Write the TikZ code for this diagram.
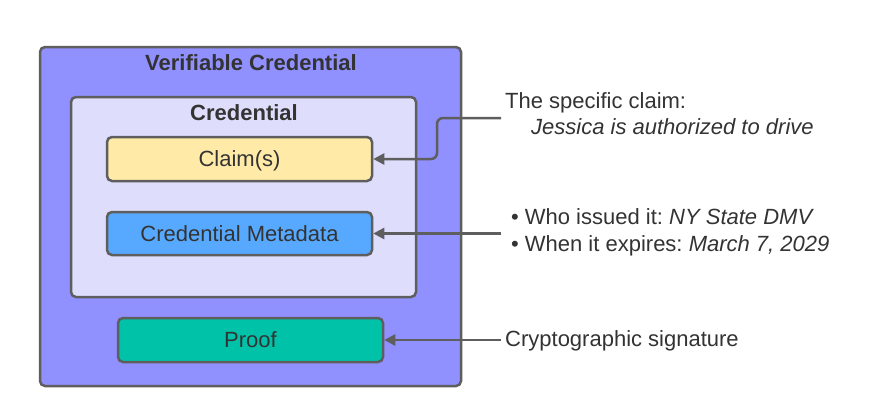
\documentclass[tikz,border=0pt]{standalone}
\usepackage{fontspec}
\setmainfont{Liberation Sans}
\usetikzlibrary{arrows.meta}
\frenchspacing
\definecolor{outerfill}{HTML}{9190FF}
\definecolor{innerfill}{HTML}{DEDEFC}
\definecolor{claimfill}{HTML}{FFEAA8}
\definecolor{metafill}{HTML}{57A9FF}
\definecolor{prooffill}{HTML}{00C2A8}
\definecolor{edge}{HTML}{5E5E5E}
\definecolor{txt}{HTML}{333333}
\begin{document}
\begin{tikzpicture}[x=1pt,y=-1pt,
  every node/.style={text=txt,font=\fontsize{22}{26}\selectfont},
  box/.style={draw=edge,line width=2.5pt,rounded corners=5pt,inner sep=0pt,
    text height=15.75pt,text depth=0pt},
  conn/.style={draw=edge,line width=2.5pt,rounded corners=6pt,
    -{Triangle[length=11pt,width=11pt]}},
  note/.style={anchor=base west,inner sep=0pt}]
\useasboundingbox[fill=white] (0,0) rectangle (883,418);
\node[box,fill=outerfill,minimum width=421pt,minimum height=339pt] (vc) at (250.5,216.5) {};
\node[anchor=base,inner sep=0pt,font=\fontsize{22}{26}\selectfont\bfseries] (vct) at (251,70) {Verifiable Credential};
\node[box,fill=innerfill,minimum width=345pt,minimum height=200pt] (cred) at (243.5,197) {};
\node[anchor=base,inner sep=0pt,font=\fontsize{22}{26}\selectfont\bfseries] (credt) at (244,120) {Credential};
\node[box,fill=claimfill,minimum width=265pt,minimum height=44pt] (claim) at (239.5,159) {Claim(s)};
\node[box,fill=metafill,minimum width=265pt,minimum height=43pt] (meta) at (239.5,233.5) {Credential Metadata};
\node[box,fill=prooffill,minimum width=265pt,minimum height=44pt] (proof) at (250.5,340) {Proof};
\coordinate (c1) at (501,118);
\coordinate (c2) at (501,233.5);
\coordinate (c3) at (501,340);
\draw[conn] (c1) -- (437,118) |- (claim.east);
\draw[conn] (c2) -- (meta.east);
\draw[conn] (c3) -- (proof.east);
\node[note] (n1) at (505,108) {The specific claim:};
\node[note] (n2) at (531,134) {\itshape Jessica is authorized to drive};
\node[note] (n3) at (511,224) {•\hspace{6pt}Who issued it: \textit{NY State DMV}};
\node[note] (n4) at (511,251) {•\hspace{6pt}When it expires: \textit{March 7, 2029}};
\node[note] (n5) at (505,346) {Cryptographic signature};
\end{tikzpicture}
\end{document}
